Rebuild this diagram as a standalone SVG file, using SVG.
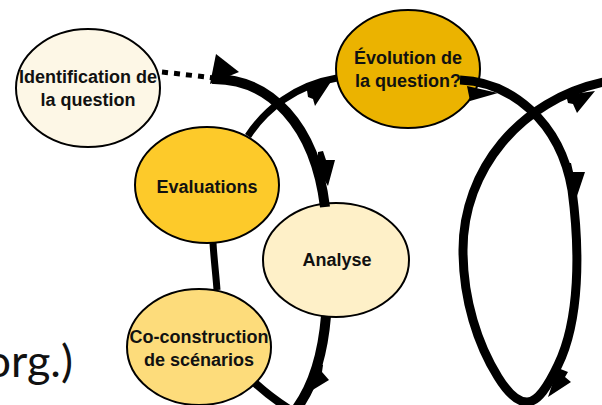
<svg xmlns="http://www.w3.org/2000/svg" width="602" height="405" viewBox="0 0 602 405">
  <style>
    .node { stroke: #000; stroke-width: 2; }
    .lbl { font-family: "Liberation Sans", Arial, sans-serif; font-weight: bold; font-size: 18px; fill: #111; text-anchor: middle; }
    .wire { fill: none; stroke: #000; stroke-linecap: butt; }
    .head { fill: #000; stroke: none; }
    .side { font-family: Lato, "Open Sans", sans-serif; font-size: 45px; fill: #111; text-anchor: end; }
  </style>

  <text class="side" x="73" y="377">org.)</text>

  <g id="identification">
    <ellipse class="node" cx="88" cy="88" rx="72" ry="59" fill="#FDF7E6"/>
    <text class="lbl" x="88" y="83">Identification de</text>
    <text class="lbl" x="88" y="106">la question</text>
  </g>

  <g id="evolution">
    <ellipse class="node" cx="408" cy="69" rx="72" ry="59" fill="#EBB300"/>
    <text class="lbl" x="408" y="64">Évolution de</text>
    <text class="lbl" x="408" y="87">la question?</text>
  </g>

  <g id="evaluations">
    <ellipse class="node" cx="207" cy="185" rx="72" ry="58" fill="#FDCA2A"/>
    <text class="lbl" x="207" y="193">Evaluations</text>
  </g>

  <g id="analyse">
    <ellipse class="node" cx="336" cy="260" rx="73" ry="57" fill="#FEF0C8"/>
    <text class="lbl" x="337" y="266">Analyse</text>
  </g>

  <g id="coconstruction">
    <ellipse class="node" cx="199" cy="347" rx="72" ry="58" fill="#FDDC7B"/>
    <text class="lbl" x="199" y="343">Co-construction</text>
    <text class="lbl" x="199" y="366">de scénarios</text>
  </g>

  <g id="connectors">
    <!-- dotted link from the first question -->
    <path class="wire" d="M162,72 C180,74 198,76 214,78" stroke-width="5" stroke-dasharray="6,6"/>
    <!-- main arc down to the analysis -->
    <path class="wire" d="M212,79 C270,78 315,125 325,207" stroke-width="10"/>
    <polygon class="head" points="210,84 216,54 239,72"/>
    <polygon class="head" points="318,152 323,151 326,160 335,160 328,186 318,170"/>
    <!-- evaluations up to the evolving question -->
    <path class="wire" d="M248,136 C265,110 295,85 337,78" stroke-width="7"/>
    <polygon class="head" points="306,84 334,77 315,106 313,99 308,97"/>
    <!-- evaluations to co-construction -->
    <path class="wire" d="M213,243 C214,260 216,275 217,290" stroke-width="7"/>
    <!-- analysis down and round to co-construction -->
    <path class="wire" d="M326,316 C323,352 313,388 294,412" stroke-width="10"/>
    <path class="wire" d="M255,383 C266,393 279,403 294,412" stroke-width="8"/>
    <polygon class="head" points="318,363 323,365 322,372 329,380 306,394 312,375"/>
    <!-- outer loop from the evolving question -->
    <path class="wire" d="M460,80 C510,82 560,120 572,190 C580,250 580,320 558,365 C548,386 538,402 527,402 C516,402 506,390 498,377 C478,345 463,300 463,250 C463,170 520,100 604,82" stroke-width="9"/>
    <polygon class="head" points="467,86 498,93 470,101"/>
    <polygon class="head" points="566,95 595,91 577,113 573,104 568,103"/>
    <polygon class="head" points="565,163 571,163 573,172 585,172 577,196 568,180"/>
    <polygon class="head" points="558,368 568,372 565,377 571,382 548,397 552,385"/>
  </g>
</svg>
